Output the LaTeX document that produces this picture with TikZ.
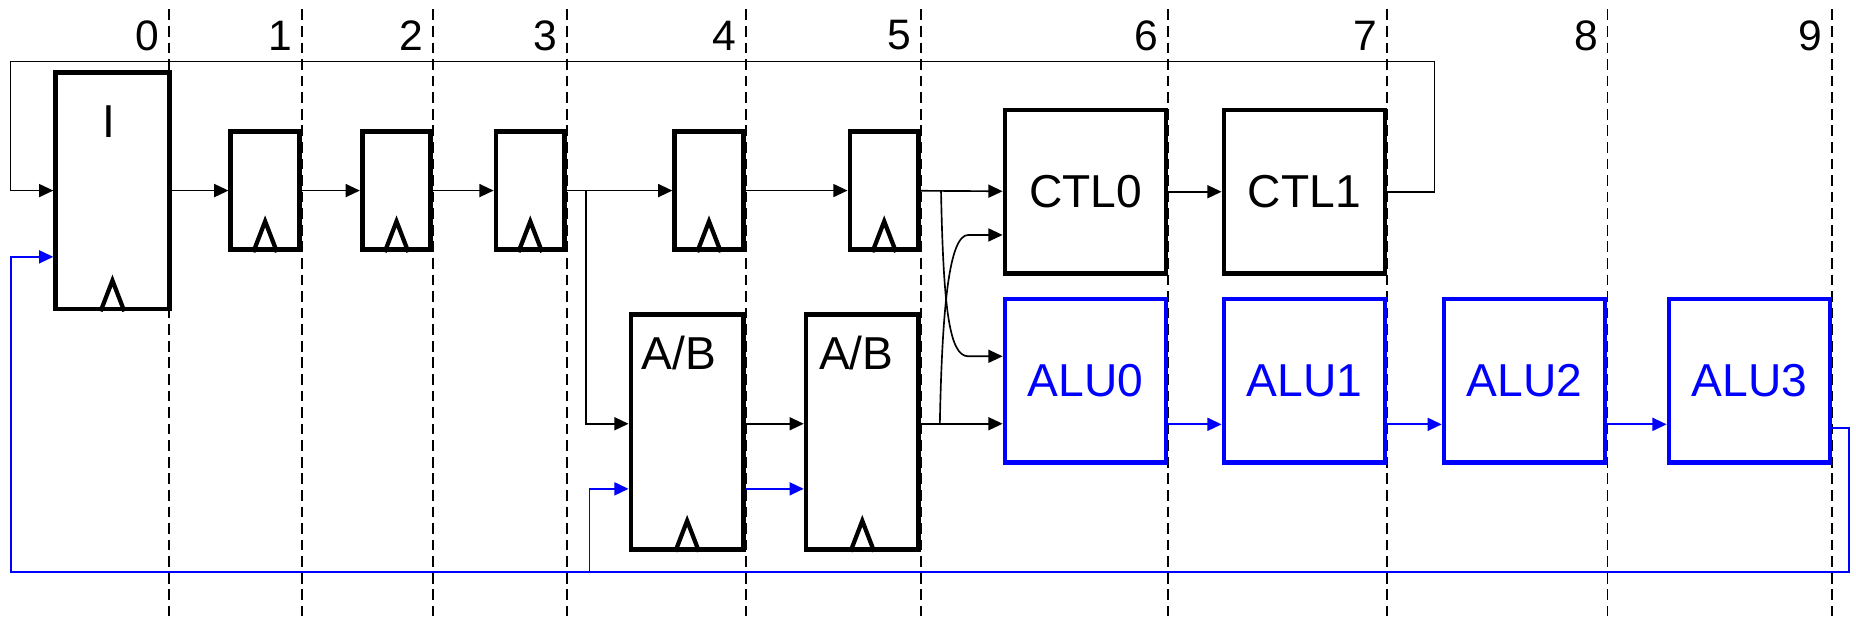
\documentclass[tikz,border=0pt]{standalone}
\usepackage{fontspec}
\setmainfont{Liberation Sans}
\usetikzlibrary{arrows.meta, positioning, calc}

\begin{document}
\begin{tikzpicture}[x=1pt, y=-1pt, font=\fontsize{39}{45}\selectfont,
    reg/.style={draw, line width=4pt, inner sep=0pt, anchor=east, minimum width=58pt, minimum height=100pt},
    blk/.style={draw, line width=4pt, inner sep=0pt, anchor=east, minimum width=136pt, minimum height=138pt},
    alu/.style={blk, blue},
    wire/.style={line width=1.4pt, -{Triangle[length=12pt,width=11pt]}},
    bwire/.style={wire, blue, line width=1.6pt},
    clk/.style={line width=3.6pt},
    stage/.style={line width=1.6pt, dash pattern=on 9pt off 5pt}
]
  \useasboundingbox (0,0) rectangle (1568,524);

  % pipeline stages
  \foreach \n/\x in {0/143,1/255,2/366,3/479,4/630,5/778,6/987,7/1172,8/1358,9/1548} {
    \coordinate (t\n) at (\x,0);
    \draw[stage] (\x,8) -- (\x,520);
    \node[anchor=east, inner sep=0pt, font=\fontsize{36}{43}\selectfont] (n\n) at ($(t\n)+(-8,30)$) {\n};
  }

  \node[draw, line width=4pt, inner sep=0pt, anchor=east, minimum width=96pt, minimum height=200pt] (I) at ($(t0)+(2,161)$) {};
  \node (Ilab) at ([xshift=-3pt,yshift=-44pt]I.north) {I};
  \node[reg] (R1) at ($(t1)+(0,161)$) {};
  \node[reg] (R2) at ($(t2)+(0,161)$) {};
  \node[reg] (R3) at ($(t3)+(0,161)$) {};
  \node[reg] (R4) at ($(t4)+(0,161)$) {};
  \node[reg] (R5) at ($(t5)+(0,161)$) {};

  \node[reg, minimum width=95pt, minimum height=198pt] (AB1) at ($(t4)+(0,365)$) {};
  \node[reg, minimum width=95pt, minimum height=198pt] (AB2) at ($(t5)+(0,365)$) {};
  \node (ABlab1) at ([xshift=-7pt,yshift=-34pt]AB1.north) {A/B};
  \node (ABlab2) at ([xshift=-5pt,yshift=-34pt]AB2.north) {A/B};

  \node[blk] (CTL0) at ($(t6)+(0,162)$) {CTL0};
  \node[blk] (CTL1) at ($(t7)+(0,162)$) {CTL1};

  \node[alu] (ALU0) at ($(t6)+(0,321.5)$) {ALU0};
  \node[alu] (ALU1) at ($(t7)+(0,321.5)$) {ALU1};
  \node[alu] (ALU2) at ($(t8)+(0,321.5)$) {ALU2};
  \node[alu] (ALU3) at ($(t9)+(0,321.5)$) {ALU3};

  % clock marks
  \foreach \n in {I,R1,R2,R3,R4,R5,AB1,AB2}
    \draw[clk] ([xshift=-10pt]\n.south) -- ++(10,-26) -- ++(10,26);

  % front end
  \draw[wire] (I) -- (R1);
  \draw[wire] (R1) -- (R2);
  \draw[wire] (R2) -- (R3);
  \draw[wire] (R3) -- (R4);
  \draw[wire] (R4) -- (R5);
  \draw[wire] (R5) -- (CTL0);
  \draw[wire] (CTL0) -- (CTL1);
  \coordinate (j3) at ($(R3.east)+(16,0)$);
  \draw[wire] (j3) |- ([yshift=7pt]AB1.west);
  \draw[wire] ([yshift=7pt]AB1.east) -- ([yshift=7pt]AB2.west);
  \draw[wire] ([yshift=7pt]AB2.east) -- ([yshift=7pt]AB2.east -| ALU0.west);

  % crossing
  \coordinate (j5) at ($(R5.east)+(17,0)$);
  \coordinate (jab) at ($(AB2.east)+(16,-7)$);
  \draw[wire] (j5) .. controls +(2,100) and +(-16,0) .. ([xshift=-29pt,yshift=20.5pt]ALU0.west) -- ([yshift=20.5pt]ALU0.west);
  \draw[wire] (jab) .. controls +(2,-100) and +(-16,0) .. ([xshift=-29pt,yshift=-36.5pt]CTL0.west) -- ([yshift=-36.5pt]CTL0.west);

  % feedback
  \draw[wire] (CTL1.east) -- ++(40,0) -- ++(0,-110) -| ([xshift=-36pt]I.west) -- (I.west);

  % ALU chain
  \foreach \a/\b in {ALU0/ALU1,ALU1/ALU2,ALU2/ALU3}
    \draw[bwire] ([yshift=-37pt]\a.east) -- ([yshift=-37pt]\b.west);
  \draw[bwire] ([yshift=-40pt]ALU3.east) -- ++(14,0) -- ++(0,122) -| ([xshift=-36pt,yshift=-56pt]I.west) -- ([yshift=-56pt]I.west);
  \coordinate (jb) at (498,483.5);
  \draw[bwire] (jb) |- ([yshift=-48pt]AB1.west);
  \draw[bwire] ([yshift=-48pt]AB1.east) -- ([yshift=-48pt]AB2.west);
\end{tikzpicture}
\end{document}
